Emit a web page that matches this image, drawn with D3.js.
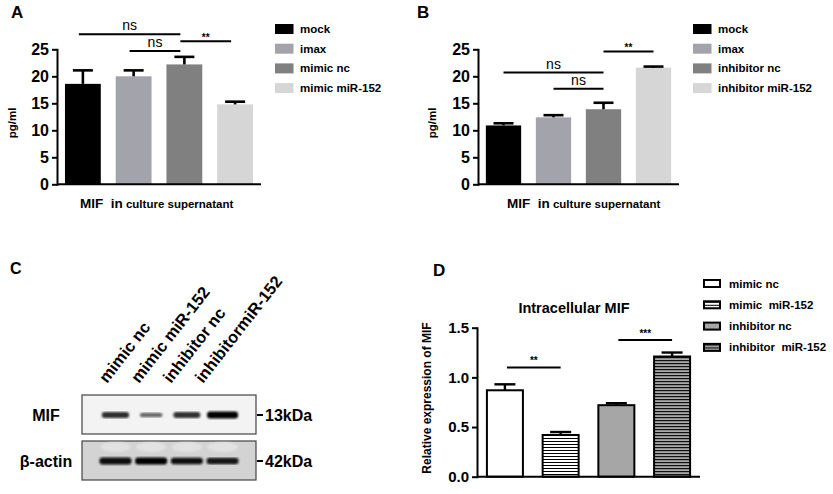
<!DOCTYPE html>
<html>
<head>
<meta charset="utf-8">
<script src="https://cdn.jsdelivr.net/npm/d3@7"></script>
<style>
  body { margin: 0; background: #fff; }
  text { font-family: Arial, "Liberation Sans", sans-serif; font-weight: bold; white-space: pre; }
</style>
</head>
<body>
<script>
// A / B : MIF in culture supernatant, pg/ml
var groupsA = ["mock", "imax", "mimic nc", "mimic miR-152"]
var meanA = [18.6, 20.0, 22.2, 14.8]
var semA = [2.5, 1.1, 1.4, 0.5]
var sigA = [[0, 2, 27.8, "ns"], [1, 2, 24.7, "ns"], [2, 3, 26.5, "**"]]

var groupsB = ["mock", "imax", "inhibitor nc", "inhibitor miR-152"]
var meanB = [10.9, 12.4, 13.9, 21.6]
var semB = [0.4, 0.4, 1.2, 0.2]
var sigB = [[0, 2, 20.7, "ns"], [1, 2, 17.7, "ns"], [2, 3, 24.6, "**"]]

var ticksPg = [0, 5, 10, 15, 20, 25]

// C : western blot
var lanes = ["mimic nc", "mimic miR-152", "inhibitor nc", "inhibitormiR-152"]
var mifLevel = [0.72, 0.35, 0.7, 1.0]
var actinLevel = [0.95, 1.0, 0.92, 0.9]
var blotRows = ["MIF", "β-actin"]
var blotSizes = ["13kDa", "42kDa"]

// D : intracellular MIF, relative expression
var groupsD = ["mimic nc", "mimic  miR-152", "inhibitor nc", "inhibitor  miR-152"]
var meanD = [0.87, 0.42, 0.72, 1.21]
var semD = [0.06, 0.03, 0.02, 0.04]
var sigD = [[0, 1, 1.10, "**"], [2, 3, 1.377, "***"]]
var ticksD = [0, 0.5, 1.0, 1.5]

var width = 833, height = 494

var svg = d3.select("body").append("svg")
            .attr("width", width)
            .attr("height", height)

var defs = svg.append("defs")
// striped fills for panel D
var p1 = defs.append("pattern").attr("id", "stripeW")
             .attr("patternUnits", "userSpaceOnUse").attr("width", 6).attr("height", 3)
p1.append("rect").attr("width", 6).attr("height", 3).attr("fill", "#fff")
p1.append("rect").attr("width", 6).attr("height", 1).attr("fill", "#000")
var p2 = defs.append("pattern").attr("id", "stripeG")
             .attr("patternUnits", "userSpaceOnUse").attr("width", 6).attr("height", 3)
p2.append("rect").attr("width", 6).attr("height", 3).attr("fill", "#a8a8a8")
p2.append("rect").attr("width", 6).attr("height", 1.2).attr("fill", "#111")
defs.append("filter").attr("id", "blur")
    .append("feGaussianBlur").attr("stdDeviation", 0.9)

function styleAxis(a) {
  a.selectAll("path, line").attr("stroke", "#000").attr("stroke-width", 2)
  a.select(".domain").attr("stroke-linecap", "square")
}

// ---------- bar panels A and B ----------
function pgPanel(o) {
  var g = svg.append("g")
  var x = d3.scaleBand().domain(o.groups).range([o.x0, o.x1])
            .paddingInner(0.294).paddingOuter(0.157)
  var y = d3.scaleLinear().domain([0, 25]).range([184.3, 49.3])
  var colors = ["#000000", "#a3a3ab", "#808080", "#d6d6d6"]
  var bw = x.bandwidth()

  g.selectAll(".bar").data(o.groups).enter().append("rect")
    .attr("x", function(d) { return x(d) })
    .attr("y", function(d, i) { return y(o.mean[i]) })
    .attr("width", bw)
    .attr("height", function(d, i) { return y(0) - y(o.mean[i]) })
    .attr("fill", function(d, i) { return colors[i] })

  // upper error bars
  var eb = g.selectAll(".err").data(o.groups).enter().append("g")
  eb.append("line")
    .attr("x1", function(d) { return x(d) + bw / 2 }).attr("x2", function(d) { return x(d) + bw / 2 })
    .attr("y1", function(d, i) { return y(o.mean[i]) }).attr("y2", function(d, i) { return y(o.mean[i] + o.sem[i]) })
    .attr("stroke", "#000").attr("stroke-width", 2.6)
  eb.append("line")
    .attr("x1", function(d) { return x(d) + bw / 2 - 10 }).attr("x2", function(d) { return x(d) + bw / 2 + 10 })
    .attr("y1", function(d, i) { return y(o.mean[i] + o.sem[i]) }).attr("y2", function(d, i) { return y(o.mean[i] + o.sem[i]) })
    .attr("stroke", "#000").attr("stroke-width", 2.6)

  var ya = g.append("g").attr("transform", "translate(" + o.x0 + ",0)")
    .call(d3.axisLeft(y).tickValues(ticksPg).tickSize(5).tickSizeOuter(0).tickPadding(3))
  styleAxis(ya)
  ya.selectAll("text").attr("font-size", 16).attr("fill", "#000")
    .style("font-family", "Arial, 'Liberation Sans', sans-serif").style("font-weight", "bold")
  g.append("line").attr("x1", o.x0).attr("x2", o.x1).attr("y1", y(0)).attr("y2", y(0))
    .attr("stroke", "#000").attr("stroke-width", 2)

  // significance
  var s = g.selectAll(".sig").data(o.sig).enter().append("g")
  s.append("line")
    .attr("x1", function(d) { return x(o.groups[d[0]]) + bw / 2 + o.sigShift })
    .attr("x2", function(d) { return x(o.groups[d[1]]) + bw / 2 + o.sigShift })
    .attr("y1", function(d) { return y(d[2]) }).attr("y2", function(d) { return y(d[2]) })
    .attr("stroke", "#000").attr("stroke-width", 2)
  s.append("text")
    .attr("x", function(d) { return (x(o.groups[d[0]]) + x(o.groups[d[1]])) / 2 + bw / 2 + o.sigShift })
    .attr("y", function(d) { return y(d[2]) - (d[3] == "ns" ? 4 : 0) })
    .attr("text-anchor", "middle")
    .attr("font-size", function(d) { return d[3] == "ns" ? 14 : 10 })
    .style("font-weight", function(d) { return d[3] == "ns" ? "normal" : "bold" })
    .text(function(d) { return d[3] })

  // legend
  var lg = g.selectAll(".leg").data(o.groups).enter().append("g")
    .attr("transform", function(d, i) { return "translate(" + o.legX + "," + (29 + i * 19.7) + ")" })
  lg.append("rect").attr("x", 0).attr("y", -5).attr("width", 18.5).attr("height", 10)
    .attr("fill", function(d, i) { return colors[i] })
  lg.append("text").attr("x", 25).attr("y", 4).attr("font-size", 11.5).text(function(d) { return d })

  g.append("text").attr("x", o.letterX).attr("y", 18).attr("font-size", 17).text(o.letter)
  g.append("text").attr("transform", "translate(" + o.ylabX + ",123) rotate(-90)")
    .attr("text-anchor", "middle").attr("font-size", 11.5).text("pg/ml")
  var t = g.append("text").attr("x", o.titleX).attr("y", 207.5)
  t.append("tspan").attr("font-size", 13.5).text("MIF  in")
  t.append("tspan").attr("font-size", 11.5).text(" culture supernatant")
}

pgPanel({ groups: groupsA, mean: meanA, sem: semA, sig: sigA, x0: 57, x1: 261,
          sigShift: -4, legX: 275, letter: "A", letterX: 11, ylabX: 16, titleX: 80 })
pgPanel({ groups: groupsB, mean: meanB, sem: semB, sig: sigB, x0: 478, x1: 679,
          sigShift: 0, legX: 693, letter: "B", letterX: 417, ylabX: 436, titleX: 507 })

// ---------- panel C : blot ----------
var gc = svg.append("g")
var lx = d3.scalePoint().domain(lanes).range([82, 256]).padding(0.937)
var labX = d3.scalePoint().domain(lanes).range([107, 203])
gc.append("text").attr("x", 10).attr("y", 274).attr("font-size", 16).text("C")

gc.selectAll(".lane").data(lanes).enter().append("text")
  .attr("transform", function(d) { return "translate(" + labX(d) + ",384) rotate(-52)" })
  .attr("font-size", 16.5).text(function(d) { return d })

var rowY = d3.scalePoint().domain(blotRows).range([415, 461])
var boxFill = ["#f3f3f3", "#d3d3d3"]
gc.selectAll(".box").data(blotRows).enter().append("rect")
  .attr("x", 82).attr("y", function(d) { return rowY(d) - 20 })
  .attr("width", 174).attr("height", 39)
  .attr("fill", function(d, i) { return boxFill[i] })
  .attr("stroke", "#444").attr("stroke-width", 1.2)

// faint smears above the actin bands
gc.selectAll(".smear").data(lanes).enter().append("ellipse")
  .attr("cx", function(d) { return lx(d) }).attr("cy", rowY("β-actin") - 14)
  .attr("rx", 15).attr("ry", 5).attr("fill", "#ececec").attr("opacity", 0.6)
  .attr("filter", "url(#blur)")

var bandW = d3.scaleLinear().domain([0, 1]).range([18, 31])
var bandH = d3.scaleLinear().domain([0, 1]).range([3, 7])
var bandC = d3.scaleLinear().domain([0, 1]).range(["#9a9a9a", "#050505"])
gc.selectAll(".mif").data(lanes).enter().append("rect")
  .attr("x", function(d, i) { return lx(d) - bandW(mifLevel[i]) / 2 })
  .attr("y", function(d, i) { return rowY("MIF") - bandH(mifLevel[i]) / 2 })
  .attr("width", function(d, i) { return bandW(mifLevel[i]) })
  .attr("height", function(d, i) { return bandH(mifLevel[i]) })
  .attr("rx", 3).attr("fill", function(d, i) { return bandC(mifLevel[i]) })
  .attr("filter", "url(#blur)")
gc.selectAll(".actin").data(lanes).enter().append("rect")
  .attr("x", function(d, i) { return lx(d) - 16 })
  .attr("y", function(d, i) { return rowY("β-actin") - bandH(actinLevel[i]) / 2 })
  .attr("width", 32)
  .attr("height", function(d, i) { return bandH(actinLevel[i]) })
  .attr("rx", 3).attr("fill", function(d, i) { return bandC(actinLevel[i]) })
  .attr("filter", "url(#blur)")

gc.selectAll(".rowlab").data(blotRows).enter().append("text")
  .attr("x", 46).attr("y", function(d) { return rowY(d) + 6 })
  .attr("text-anchor", "middle").attr("font-size", 16).text(function(d) { return d })
gc.selectAll(".mw").data(blotSizes).enter().append("line")
  .attr("x1", 257).attr("x2", 263)
  .attr("y1", function(d, i) { return rowY(blotRows[i]) }).attr("y2", function(d, i) { return rowY(blotRows[i]) })
  .attr("stroke", "#000").attr("stroke-width", 2)
gc.selectAll(".mwt").data(blotSizes).enter().append("text")
  .attr("x", 265).attr("y", function(d, i) { return rowY(blotRows[i]) + 6 })
  .attr("font-size", 16).text(function(d) { return d })

// ---------- panel D ----------
var gd = svg.append("g")
var xd = d3.scaleBand().domain(groupsD).range([477, 700]).paddingInner(0.318).paddingOuter(0.16)
var yd = d3.scaleLinear().domain([0, 1.5]).range([476.7, 327.7])
var fillD = ["#ffffff", "url(#stripeW)", "#a6a6a6", "url(#stripeG)"]
var bwd = xd.bandwidth()

gd.selectAll(".bar").data(groupsD).enter().append("rect")
  .attr("x", function(d) { return xd(d) + 1 })
  .attr("y", function(d, i) { return yd(meanD[i]) })
  .attr("width", bwd - 2)
  .attr("height", function(d, i) { return yd(0) - yd(meanD[i]) })
  .attr("fill", function(d, i) { return fillD[i] })
  .attr("stroke", "#000").attr("stroke-width", 2)

var ebd = gd.selectAll(".err").data(groupsD).enter().append("g")
ebd.append("line")
  .attr("x1", function(d) { return xd(d) + bwd / 2 }).attr("x2", function(d) { return xd(d) + bwd / 2 })
  .attr("y1", function(d, i) { return yd(meanD[i]) }).attr("y2", function(d, i) { return yd(meanD[i] + semD[i]) })
  .attr("stroke", "#000").attr("stroke-width", 2.4)
ebd.append("line")
  .attr("x1", function(d) { return xd(d) + bwd / 2 - 10.5 }).attr("x2", function(d) { return xd(d) + bwd / 2 + 10.5 })
  .attr("y1", function(d, i) { return yd(meanD[i] + semD[i]) }).attr("y2", function(d, i) { return yd(meanD[i] + semD[i]) })
  .attr("stroke", "#000").attr("stroke-width", 2.4)

var yda = gd.append("g").attr("transform", "translate(477,0)")
  .call(d3.axisLeft(yd).tickValues(ticksD).tickSize(5).tickSizeOuter(0).tickPadding(3).tickFormat(d3.format(".1f")))
styleAxis(yda)
yda.selectAll("text").attr("font-size", 15).attr("fill", "#000")
  .style("font-family", "Arial, 'Liberation Sans', sans-serif").style("font-weight", "bold")
gd.append("line").attr("x1", 477).attr("x2", 700).attr("y1", yd(0)).attr("y2", yd(0))
  .attr("stroke", "#000").attr("stroke-width", 2)

var sd = gd.selectAll(".sig").data(sigD).enter().append("g")
sd.append("line")
  .attr("x1", function(d) { return xd(groupsD[d[0]]) + bwd / 2 + 2 })
  .attr("x2", function(d) { return xd(groupsD[d[1]]) + bwd / 2 })
  .attr("y1", function(d) { return yd(d[2]) }).attr("y2", function(d) { return yd(d[2]) })
  .attr("stroke", "#000").attr("stroke-width", 2)
sd.append("text")
  .attr("x", function(d) { return (xd(groupsD[d[0]]) + xd(groupsD[d[1]])) / 2 + bwd / 2 + 1 })
  .attr("y", function(d) { return yd(d[2]) - 3 })
  .attr("text-anchor", "middle").attr("font-size", 10).text(function(d) { return d[3] })

var lgd = gd.selectAll(".leg").data(groupsD).enter().append("g")
  .attr("transform", function(d, i) { return "translate(704," + (283.5 + i * 21.3) + ")" })
lgd.append("rect").attr("x", 0).attr("y", -3.5).attr("width", 16).attr("height", 7)
  .attr("fill", function(d, i) { return fillD[i] }).attr("stroke", "#000").attr("stroke-width", 2)
lgd.append("text").attr("x", 25).attr("y", 4).attr("font-size", 11.5).text(function(d) { return d })

gd.append("text").attr("x", 433).attr("y", 276).attr("font-size", 17).text("D")
gd.append("text").attr("x", 574).attr("y", 313).attr("text-anchor", "middle")
  .attr("font-size", 14.5).text("Intracellular MIF")
gd.append("text").attr("transform", "translate(431,398) rotate(-90)")
  .attr("text-anchor", "middle").attr("font-size", 12).text("Relative expression of MIF")
</script>
</body>
</html>
